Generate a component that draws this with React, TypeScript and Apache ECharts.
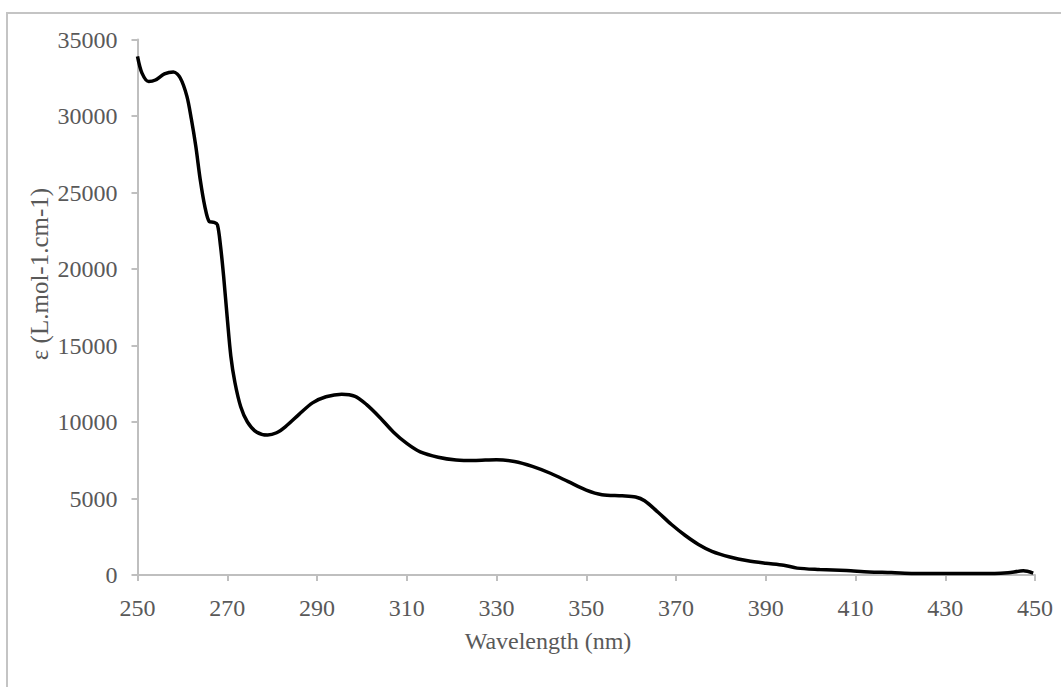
import React, { useEffect, useRef } from "react";
import * as echarts from "echarts";

const wavelengths = [
  250, 251, 252.5, 254, 256, 258, 259.5, 261, 262, 263, 264, 265, 266, 267, 267.8,
  268.5, 269.2, 270, 270.8, 271.7, 273, 274.5, 276.5, 279, 281, 283, 286, 289, 292,
  295.5, 298.5, 301, 304, 307, 310, 313, 317, 321, 325, 330, 334, 338, 342, 346, 350,
  353.5, 358, 361, 363, 366, 369, 372, 375, 378, 382, 386, 390, 394, 397, 402, 408,
  413, 418, 423, 430, 437, 441, 444, 447.4, 449.6,
];
const epsilon = [
  33900, 32800, 32250, 32350, 32750, 32880, 32500, 31300, 29800, 28000, 25800, 24100,
  23100, 23050, 22900, 21500, 19500, 16800, 14300, 12600, 11000, 10000, 9350, 9150,
  9300, 9700, 10500, 11250, 11650, 11820, 11680, 11150, 10300, 9350, 8600, 8050, 7700,
  7520, 7480, 7540, 7420, 7100, 6650, 6100, 5550, 5250, 5180, 5100, 4850, 4100, 3300,
  2600, 2000, 1550, 1180, 930, 770, 640, 450, 360, 290, 200, 160, 100, 90, 90, 90, 140,
  270, 120,
];

const xTitle = "Wavelength (nm)";
const yTitle = "ε (L.mol-1.cm-1)";

export default function App() {
  const ref = useRef<HTMLDivElement>(null);
  useEffect(() => {
    if (!ref.current) return;
    const chart = echarts.init(ref.current, undefined, { renderer: "svg" });
    const font = "'Liberation Serif', 'Times New Roman', serif";
    const labelColor = "#595959";
    const axisColor = "#bfbfbf";
    chart.setOption({
      animation: false,
      backgroundColor: "#ffffff",
      grid: { left: 137.5, right: 26, top: 39.5, bottom: 112 },
      graphic: [
        {
          type: "rect",
          shape: { x: 7, y: 13, width: 1200, height: 900 },
          style: { fill: "none", stroke: "#c4c4c4", lineWidth: 2 },
        },
        {
          type: "text",
          x: 548,
          y: 641,
          style: {
            text: xTitle,
            fontFamily: font,
            fontSize: 24,
            fill: labelColor,
            align: "center",
            verticalAlign: "middle",
          },
        },
        {
          type: "text",
          x: 39,
          y: 274,
          rotation: Math.PI / 2,
          style: {
            text: yTitle,
            fontFamily: font,
            fontSize: 25,
            fill: labelColor,
            align: "center",
            verticalAlign: "middle",
          },
        },
      ],
      xAxis: {
        type: "value",
        min: 250,
        max: 450,
        interval: 20,
        axisLine: { lineStyle: { color: axisColor, width: 2 } },
        axisTick: { show: true, length: 6, lineStyle: { color: axisColor, width: 2 } },
        axisLabel: { fontFamily: font, fontSize: 24, color: labelColor, margin: 21 },
        splitLine: { show: false },
      },
      yAxis: {
        type: "value",
        min: 0,
        max: 35000,
        interval: 5000,
        axisLine: { show: true, lineStyle: { color: axisColor, width: 2 } },
        axisTick: { show: true, length: 6, lineStyle: { color: axisColor, width: 2 } },
        axisLabel: {
          fontFamily: font,
          fontSize: 24,
          color: labelColor,
          margin: 20,
          formatter: (v: number) => String(v),
        },
        splitLine: { show: false },
      },
      series: [
        {
          type: "line",
          data: wavelengths.map((w, i) => [w, epsilon[i]]),
          smooth: 0.3,
          showSymbol: false,
          lineStyle: { color: "#000000", width: 3.5 },
        },
      ],
    });
    return () => chart.dispose();
  }, []);
  return (
    <div
      ref={ref}
      style={{ position: "absolute", left: 0, top: 0, width: 1061, height: 687 }}
    />
  );
}
